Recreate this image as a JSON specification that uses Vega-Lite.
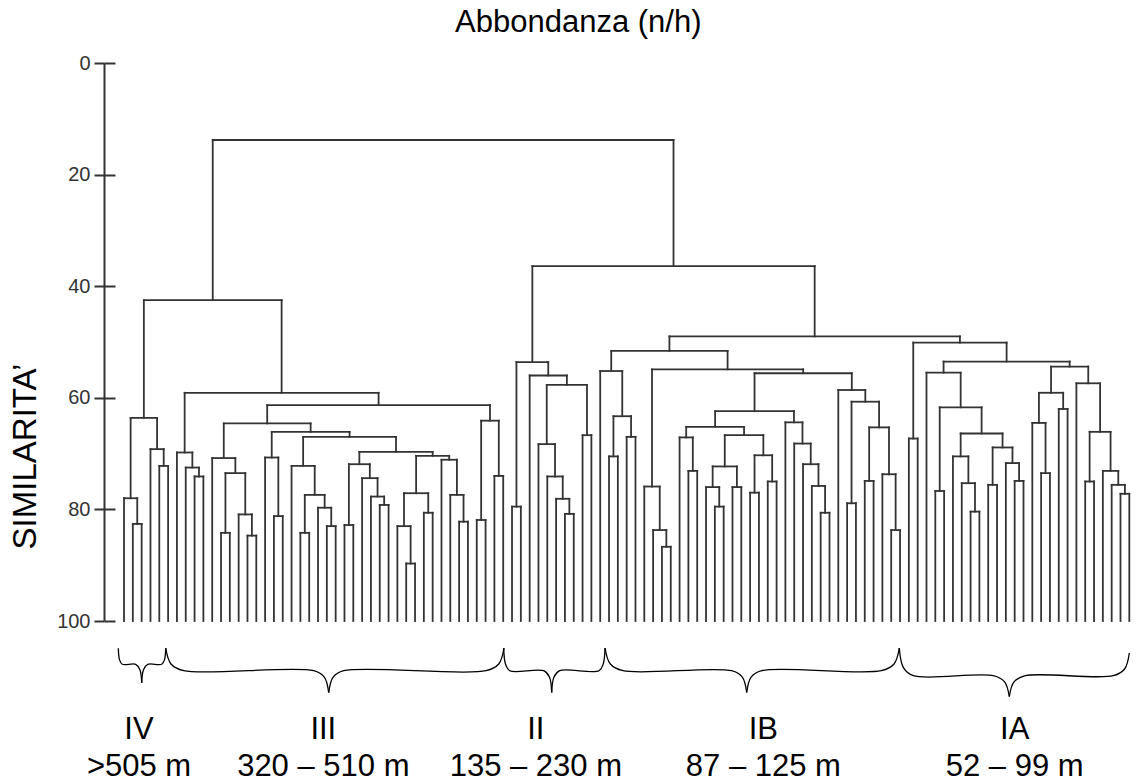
{
  "$schema": "https://vega.github.io/schema/vega-lite/v6.json",
  "width": 1030.6,
  "height": 558,
  "autosize": {"type": "none"},
  "padding": {"left": 104, "top": 63, "right": 1.4, "bottom": 162},
  "background": "white",
  "title": {"text": "Abbondanza (n/h)", "fontSize": 31, "font": "Liberation Sans", "fontWeight": "normal", "color": "#000", "anchor": "middle", "frame": "group", "dx": -41, "offset": -10, "baseline": "alphabetic"},
  "config": {"view": {"stroke": null}, "font": "Liberation Sans"},
  "datasets": {
    "nodes": [
      {"xl":1,"xr":2,"hl":100,"hr":100,"h":82.6},
      {"xl":0,"xr":1.5,"hl":100,"hr":82.6,"h":78.0},
      {"xl":4,"xr":5,"hl":100,"hr":100,"h":72.2},
      {"xl":3,"xr":4.5,"hl":100,"hr":72.2,"h":69.2},
      {"xl":0.75,"xr":3.75,"hl":78.0,"hr":69.2,"h":63.6},
      {"xl":8,"xr":9,"hl":100,"hr":100,"h":74.1},
      {"xl":7,"xr":8.5,"hl":100,"hr":74.1,"h":72.5},
      {"xl":6,"xr":7.75,"hl":100,"hr":72.5,"h":69.8},
      {"xl":11,"xr":12,"hl":100,"hr":100,"h":84.2},
      {"xl":14,"xr":15,"hl":100,"hr":100,"h":84.7},
      {"xl":13,"xr":14.5,"hl":100,"hr":84.7,"h":80.9},
      {"xl":11.5,"xr":13.75,"hl":84.2,"hr":80.9,"h":73.5},
      {"xl":10,"xr":12.625,"hl":100,"hr":73.5,"h":70.8},
      {"xl":17,"xr":18,"hl":100,"hr":100,"h":81.2},
      {"xl":16,"xr":17.5,"hl":100,"hr":81.2,"h":70.7},
      {"xl":20,"xr":21,"hl":100,"hr":100,"h":84.2},
      {"xl":23,"xr":24,"hl":100,"hr":100,"h":83.0},
      {"xl":22,"xr":23.5,"hl":100,"hr":83.0,"h":79.7},
      {"xl":20.5,"xr":22.75,"hl":84.2,"hr":79.7,"h":77.4},
      {"xl":19,"xr":21.625,"hl":100,"hr":77.4,"h":72.2},
      {"xl":25,"xr":26,"hl":100,"hr":100,"h":82.8},
      {"xl":29,"xr":30,"hl":100,"hr":100,"h":79.2},
      {"xl":28,"xr":29.5,"hl":100,"hr":79.2,"h":77.7},
      {"xl":27,"xr":28.75,"hl":100,"hr":77.7,"h":74.4},
      {"xl":25.5,"xr":27.875,"hl":82.8,"hr":74.4,"h":71.9},
      {"xl":32,"xr":33,"hl":100,"hr":100,"h":89.7},
      {"xl":31,"xr":32.5,"hl":100,"hr":89.7,"h":83.0},
      {"xl":34,"xr":35,"hl":100,"hr":100,"h":80.6},
      {"xl":31.75,"xr":34.5,"hl":83.0,"hr":80.6,"h":77.1},
      {"xl":38,"xr":39,"hl":100,"hr":100,"h":82.2},
      {"xl":37,"xr":38.5,"hl":100,"hr":82.2,"h":77.4},
      {"xl":36,"xr":37.75,"hl":100,"hr":77.4,"h":71.1},
      {"xl":33.125,"xr":36.875,"hl":77.1,"hr":71.1,"h":70.4},
      {"xl":26.6875,"xr":35,"hl":71.9,"hr":70.4,"h":69.7},
      {"xl":20.3125,"xr":30.84375,"hl":72.2,"hr":69.7,"h":67.0},
      {"xl":16.75,"xr":25.578125,"hl":70.7,"hr":67.0,"h":66.1},
      {"xl":11.3125,"xr":21.1640625,"hl":70.8,"hr":66.1,"h":64.6},
      {"xl":40,"xr":41,"hl":100,"hr":100,"h":81.9},
      {"xl":42,"xr":43,"hl":100,"hr":100,"h":74.0},
      {"xl":40.5,"xr":42.5,"hl":81.9,"hr":74.0,"h":64.1},
      {"xl":16.238,"xr":41.5,"hl":64.6,"hr":64.1,"h":61.3},
      {"xl":6.875,"xr":28.869,"hl":69.8,"hr":61.3,"h":59.1},
      {"xl":2.25,"xr":17.872,"hl":63.6,"hr":59.1,"h":42.5},
      {"xl":44,"xr":45,"hl":100,"hr":100,"h":79.5},
      {"xl":50,"xr":51,"hl":100,"hr":100,"h":80.8},
      {"xl":49,"xr":50.5,"hl":100,"hr":80.8,"h":78.1},
      {"xl":48,"xr":49.75,"hl":100,"hr":78.1,"h":74.1},
      {"xl":47,"xr":48.875,"hl":100,"hr":74.1,"h":68.3},
      {"xl":52,"xr":53,"hl":100,"hr":100,"h":66.7},
      {"xl":47.9375,"xr":52.5,"hl":68.3,"hr":66.7,"h":57.7},
      {"xl":46,"xr":50.219,"hl":100,"hr":57.7,"h":56.0},
      {"xl":44.5,"xr":48.109,"hl":79.5,"hr":56.0,"h":53.6},
      {"xl":55,"xr":56,"hl":100,"hr":100,"h":70.5},
      {"xl":57,"xr":58,"hl":100,"hr":100,"h":67.0},
      {"xl":55.5,"xr":57.5,"hl":70.5,"hr":67.0,"h":63.3},
      {"xl":54,"xr":56.5,"hl":100,"hr":63.3,"h":55.2},
      {"xl":61,"xr":62,"hl":100,"hr":100,"h":86.7},
      {"xl":60,"xr":61.5,"hl":100,"hr":86.7,"h":83.7},
      {"xl":59,"xr":60.75,"hl":100,"hr":83.7,"h":75.9},
      {"xl":64,"xr":65,"hl":100,"hr":100,"h":73.1},
      {"xl":63,"xr":64.5,"hl":100,"hr":73.1,"h":67.1},
      {"xl":67,"xr":68,"hl":100,"hr":100,"h":79.5},
      {"xl":66,"xr":67.5,"hl":100,"hr":79.5,"h":76.0},
      {"xl":69,"xr":70,"hl":100,"hr":100,"h":76.0},
      {"xl":66.75,"xr":69.5,"hl":76.0,"hr":76.0,"h":72.3},
      {"xl":71,"xr":72,"hl":100,"hr":100,"h":77.0},
      {"xl":73,"xr":74,"hl":100,"hr":100,"h":75.0},
      {"xl":71.5,"xr":73.5,"hl":77.0,"hr":75.0,"h":70.3},
      {"xl":68.125,"xr":72.5,"hl":72.3,"hr":70.3,"h":66.7},
      {"xl":63.75,"xr":70.3125,"hl":67.1,"hr":66.7,"h":65.2},
      {"xl":79,"xr":80,"hl":100,"hr":100,"h":80.6},
      {"xl":78,"xr":79.5,"hl":100,"hr":80.6,"h":75.8},
      {"xl":77,"xr":78.75,"hl":100,"hr":75.8,"h":71.9},
      {"xl":76,"xr":77.875,"hl":100,"hr":71.9,"h":68.2},
      {"xl":75,"xr":76.9375,"hl":100,"hr":68.2,"h":64.4},
      {"xl":67.031,"xr":75.969,"hl":65.2,"hr":64.4,"h":62.4},
      {"xl":82,"xr":83,"hl":100,"hr":100,"h":78.9},
      {"xl":84,"xr":85,"hl":100,"hr":100,"h":74.9},
      {"xl":87,"xr":88,"hl":100,"hr":100,"h":83.7},
      {"xl":86,"xr":87.5,"hl":100,"hr":83.7,"h":73.7},
      {"xl":84.5,"xr":86.75,"hl":74.9,"hr":73.7,"h":65.3},
      {"xl":82.5,"xr":85.625,"hl":78.9,"hr":65.3,"h":60.7},
      {"xl":81,"xr":84.0625,"hl":100,"hr":60.7,"h":58.6},
      {"xl":71.5,"xr":82.531,"hl":62.4,"hr":58.6,"h":55.6},
      {"xl":59.875,"xr":77.016,"hl":75.9,"hr":55.6,"h":54.9},
      {"xl":55.25,"xr":68.445,"hl":55.2,"hr":54.9,"h":51.6},
      {"xl":89,"xr":90,"hl":100,"hr":100,"h":67.3},
      {"xl":92,"xr":93,"hl":100,"hr":100,"h":76.7},
      {"xl":96,"xr":97,"hl":100,"hr":100,"h":80.4},
      {"xl":95,"xr":96.5,"hl":100,"hr":80.4,"h":75.3},
      {"xl":94,"xr":95.75,"hl":100,"hr":75.3,"h":70.5},
      {"xl":98,"xr":99,"hl":100,"hr":100,"h":75.6},
      {"xl":101,"xr":102,"hl":100,"hr":100,"h":74.9},
      {"xl":100,"xr":101.5,"hl":100,"hr":74.9,"h":71.7},
      {"xl":98.5,"xr":100.75,"hl":75.6,"hr":71.7,"h":68.9},
      {"xl":94.875,"xr":99.625,"hl":70.5,"hr":68.9,"h":66.4},
      {"xl":92.5,"xr":97.25,"hl":76.7,"hr":66.4,"h":61.7},
      {"xl":91,"xr":94.875,"hl":100,"hr":61.7,"h":55.5},
      {"xl":104,"xr":105,"hl":100,"hr":100,"h":73.5},
      {"xl":103,"xr":104.5,"hl":100,"hr":73.5,"h":64.5},
      {"xl":106,"xr":107,"hl":100,"hr":100,"h":62.0},
      {"xl":103.75,"xr":106.5,"hl":64.5,"hr":62.0,"h":59.1},
      {"xl":109,"xr":110,"hl":100,"hr":100,"h":75.0},
      {"xl":113,"xr":114,"hl":100,"hr":100,"h":77.2},
      {"xl":112,"xr":113.5,"hl":100,"hr":77.2,"h":75.6},
      {"xl":111,"xr":112.75,"hl":100,"hr":75.6,"h":73.1},
      {"xl":109.5,"xr":111.875,"hl":75.0,"hr":73.1,"h":66.1},
      {"xl":108,"xr":110.6875,"hl":100,"hr":66.1,"h":57.4},
      {"xl":105.125,"xr":109.344,"hl":59.1,"hr":57.4,"h":54.4},
      {"xl":92.9375,"xr":107.234,"hl":55.5,"hr":54.4,"h":53.5},
      {"xl":89.5,"xr":100.086,"hl":67.3,"hr":53.5,"h":50.1},
      {"xl":61.848,"xr":94.793,"hl":51.6,"hr":50.1,"h":49.0},
      {"xl":46.305,"xr":78.320,"hl":53.6,"hr":49.0,"h":36.4},
      {"xl":10.061,"xr":62.3125,"hl":42.5,"hr":36.4,"h":13.8}
    ],
    "braces": [
      {"seg":"IV-L","k":1,"bx":-0.646,"by":104.89},{"seg":"IV-L","k":2,"bx":-0.510,"by":106.92},{"seg":"IV-L","k":3,"bx":-0.193,"by":107.76},{"seg":"IV-L","k":4,"bx":1.327,"by":107.76},{"seg":"IV-L","k":5,"bx":1.803,"by":108.73},{"seg":"IV-L","k":6,"bx":2.007,"by":111.06},
      {"seg":"IV-R","k":1,"bx":2.007,"by":111.06},{"seg":"IV-R","k":2,"bx":2.211,"by":108.73},{"seg":"IV-R","k":3,"bx":2.688,"by":107.76},{"seg":"IV-R","k":4,"bx":4.275,"by":107.76},{"seg":"IV-R","k":5,"bx":4.593,"by":106.92},{"seg":"IV-R","k":6,"bx":4.729,"by":104.89},
      {"seg":"III-L","k":1,"bx":4.729,"by":104.84},{"seg":"III-L","k":2,"bx":5.330,"by":107.71},{"seg":"III-L","k":3,"bx":6.770,"by":108.91},{"seg":"III-L","k":4,"bx":21.512,"by":108.91},{"seg":"III-L","k":5,"bx":22.714,"by":110.06},{"seg":"III-L","k":6,"bx":23.213,"by":112.85},
      {"seg":"III-R","k":1,"bx":23.213,"by":112.85},{"seg":"III-R","k":2,"bx":23.712,"by":110.06},{"seg":"III-R","k":3,"bx":24.914,"by":108.91},{"seg":"III-R","k":4,"bx":41.050,"by":108.91},{"seg":"III-R","k":5,"bx":42.491,"by":107.71},{"seg":"III-R","k":6,"bx":43.092,"by":104.84},
      {"seg":"II-L","k":1,"bx":43.057,"by":104.84},{"seg":"II-L","k":2,"bx":43.261,"by":107.71},{"seg":"II-L","k":3,"bx":43.738,"by":108.91},{"seg":"II-L","k":4,"bx":47.593,"by":108.91},{"seg":"II-L","k":5,"bx":48.240,"by":110.05},{"seg":"II-L","k":6,"bx":48.500,"by":112.81},
      {"seg":"II-R","k":1,"bx":48.500,"by":112.81},{"seg":"II-R","k":2,"bx":48.761,"by":110.05},{"seg":"II-R","k":3,"bx":49.408,"by":108.91},{"seg":"II-R","k":4,"bx":53.864,"by":108.91},{"seg":"II-R","k":5,"bx":54.341,"by":107.71},{"seg":"II-R","k":6,"bx":54.545,"by":104.84},
      {"seg":"IB-L","k":1,"bx":54.545,"by":104.84},{"seg":"IB-L","k":2,"bx":55.146,"by":107.71},{"seg":"IB-L","k":3,"bx":56.586,"by":108.91},{"seg":"IB-L","k":4,"bx":68.913,"by":108.91},{"seg":"IB-L","k":5,"bx":70.115,"by":110.05},{"seg":"IB-L","k":6,"bx":70.614,"by":112.81},
      {"seg":"IB-R","k":1,"bx":70.614,"by":112.81},{"seg":"IB-R","k":2,"bx":71.113,"by":110.05},{"seg":"IB-R","k":3,"bx":72.315,"by":108.91},{"seg":"IB-R","k":4,"bx":85.876,"by":108.91},{"seg":"IB-R","k":5,"bx":87.317,"by":107.71},{"seg":"IB-R","k":6,"bx":87.918,"by":104.84},
      {"seg":"IA-L","k":1,"bx":87.918,"by":104.84},{"seg":"IA-L","k":2,"bx":88.383,"by":108.35},{"seg":"IA-L","k":3,"bx":89.506,"by":109.80},{"seg":"IA-L","k":4,"bx":98.578,"by":109.80},{"seg":"IA-L","k":5,"bx":99.859,"by":110.91},{"seg":"IA-L","k":6,"bx":100.392,"by":113.57},
      {"seg":"IA-R","k":1,"bx":100.392,"by":113.57},{"seg":"IA-R","k":2,"bx":100.925,"by":110.91},{"seg":"IA-R","k":3,"bx":102.207,"by":109.80},{"seg":"IA-R","k":4,"bx":112.186,"by":109.80},{"seg":"IA-R","k":5,"bx":113.467,"by":108.60},{"seg":"IA-R","k":6,"bx":114.000,"by":105.73}
    ],
    "groups": [
      {"g":"IV","r":">505 m","c":1.7},
      {"g":"III","r":"320 – 510 m","c":22.6},
      {"g":"II","r":"135 – 230 m","c":46.7},
      {"g":"IB","r":"87 – 125 m","c":72.5},
      {"g":"IA","r":"52 – 99 m","c":101.0}
    ]
  },
  "layer": [
    {
      "data": {"name": "nodes"},
      "mark": {"type": "rule", "color": "#333333", "strokeWidth": 1.8, "strokeCap": "square", "clip": false},
      "encoding": {
        "x": {"field": "xl", "type": "quantitative", "scale": {"domain": [-2.27, 114.6], "nice": false, "zero": false}, "axis": null},
        "x2": {"field": "xr"},
        "y": {"field": "h", "type": "quantitative", "scale": {"domain": [0, 100], "reverse": true, "nice": false, "zero": false},
          "axis": {"values": [0, 20, 40, 60, 80, 100], "grid": false, "domain": true, "domainColor": "#333333", "domainWidth": 2,
            "ticks": true, "tickColor": "#333333", "tickWidth": 2, "tickSize": 10,
            "labelFontSize": 20, "labelFont": "Liberation Sans", "labelColor": "#333333", "labelPadding": 4,
            "title": "SIMILARITA’", "titleFontSize": 33, "titleFont": "Liberation Sans", "titleFontWeight": "normal", "titleColor": "#000000",
            "titleAngle": 270, "titleX": -79, "titleY": 393, "titleAlign": "center", "titleBaseline": "middle"}}
      }
    },
    {
      "data": {"name": "nodes"},
      "mark": {"type": "rule", "color": "#333333", "strokeWidth": 1.8, "strokeCap": "square", "clip": false},
      "encoding": {
        "x": {"field": "xl", "type": "quantitative", "scale": {"domain": [-2.27, 114.6], "nice": false, "zero": false}, "axis": null},
        "y": {"field": "hl", "type": "quantitative", "scale": {"domain": [0, 100], "reverse": true, "nice": false, "zero": false},
          "axis": {"orient": "left", "offset": -11, "values": [0, 20, 40, 60, 80, 100], "grid": false, "domain": false, "labels": false,
            "ticks": true, "tickColor": "#333333", "tickWidth": 2, "tickSize": 11, "title": null}},
        "y2": {"field": "h"}
      }
    },
    {
      "data": {"name": "nodes"},
      "mark": {"type": "rule", "color": "#333333", "strokeWidth": 1.8, "strokeCap": "square", "clip": false},
      "encoding": {
        "x": {"field": "xr", "type": "quantitative", "scale": {"domain": [-2.27, 114.6], "nice": false, "zero": false}, "axis": null},
        "y": {"field": "hr", "type": "quantitative", "scale": {"domain": [0, 100], "reverse": true, "nice": false, "zero": false}, "axis": null},
        "y2": {"field": "h"}
      }
    },
    {
      "data": {"name": "braces"},
      "mark": {"type": "line", "color": "#000000", "strokeWidth": 1.3, "interpolate": "catmull-rom", "clip": false},
      "encoding": {
        "x": {"field": "bx", "type": "quantitative", "axis": null},
        "y": {"field": "by", "type": "quantitative", "axis": null},
        "detail": {"field": "seg", "type": "nominal"},
        "order": {"field": "k", "type": "quantitative"}
      }
    },
    {
      "data": {"name": "groups"},
      "mark": {"type": "text", "fontSize": 31, "font": "Liberation Sans", "color": "#000000", "baseline": "alphabetic", "align": "center", "clip": false},
      "encoding": {
        "x": {"field": "c", "type": "quantitative", "axis": null},
        "y": {"datum": 121.1, "type": "quantitative", "axis": null},
        "text": {"field": "g"}
      }
    },
    {
      "data": {"name": "groups"},
      "mark": {"type": "text", "fontSize": 31, "font": "Liberation Sans", "color": "#000000", "baseline": "alphabetic", "align": "center", "clip": false},
      "encoding": {
        "x": {"field": "c", "type": "quantitative", "axis": null},
        "y": {"datum": 127.8, "type": "quantitative", "axis": null},
        "text": {"field": "r"}
      }
    }
  ],
  "resolve": {"axis": {"y": "independent"}}
}
